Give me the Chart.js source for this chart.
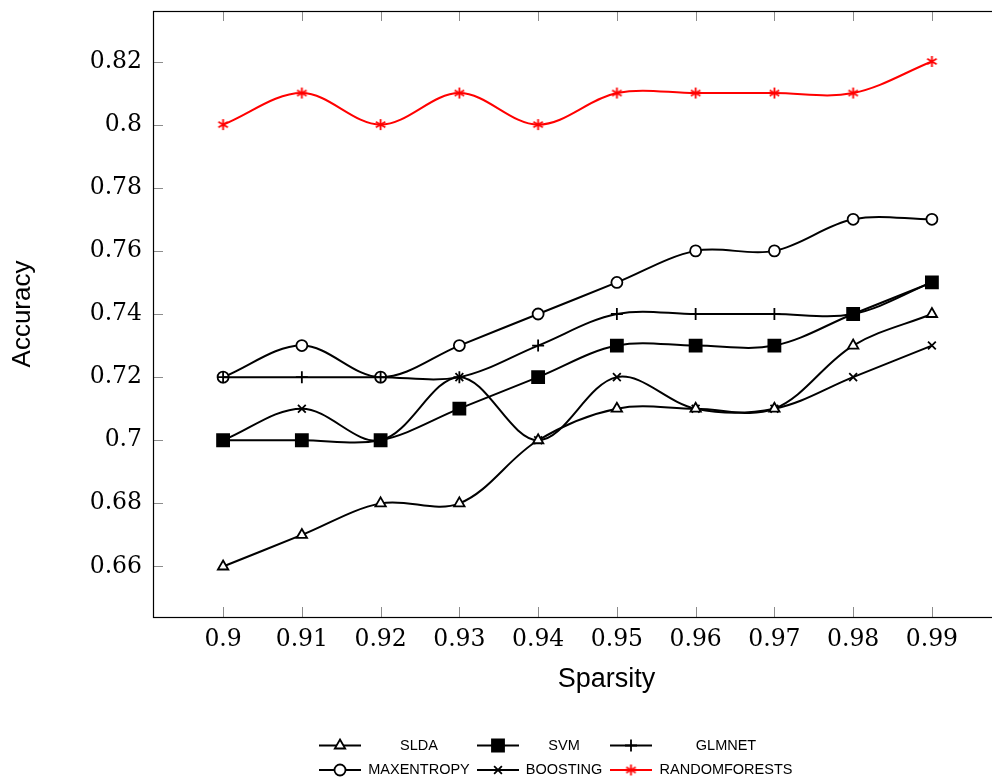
<!DOCTYPE html>
<html>
<head>
<meta charset="utf-8">
<script src="https://cdn.jsdelivr.net/npm/chart.js@4"></script>
<style>
    html, body { margin: 0; padding: 0; overflow: hidden; background: #fff; }
    canvas { display: block; }
</style>
</head>
<body>
<canvas id="myChart" width="1002" height="782"></canvas>
<script>
const sparsity = [0.9, 0.91, 0.92, 0.93, 0.94, 0.95, 0.96, 0.97, 0.98, 0.99];

const slda     = [0.66, 0.67, 0.68, 0.68, 0.70, 0.71, 0.71, 0.71, 0.73, 0.74];
const svm      = [0.70, 0.70, 0.70, 0.71, 0.72, 0.73, 0.73, 0.73, 0.74, 0.75];
const glmnet   = [0.72, 0.72, 0.72, 0.72, 0.73, 0.74, 0.74, 0.74, 0.74, 0.75];
const maxent   = [0.72, 0.73, 0.72, 0.73, 0.74, 0.75, 0.76, 0.76, 0.77, 0.77];
const boosting = [0.70, 0.71, 0.70, 0.72, 0.70, 0.72, 0.71, 0.71, 0.72, 0.73];
const rforests = [0.80, 0.81, 0.80, 0.81, 0.80, 0.81, 0.81, 0.81, 0.81, 0.82];

const xTicks = [0.9, 0.91, 0.92, 0.93, 0.94, 0.95, 0.96, 0.97, 0.98, 0.99];
const yTicks = [0.66, 0.68, 0.7, 0.72, 0.74, 0.76, 0.78, 0.8, 0.82];

const toPoints = (ys) => ys.map((y, i) => ({x: sparsity[i], y: y}));

// pgfplots style asterisk (three strokes), drawn once on a small canvas
function asterisk(color, r) {
    const size = Math.ceil(r * 2 + 4);
    const c = document.createElement('canvas');
    c.width = size; c.height = size;
    const g = c.getContext('2d');
    const m = size / 2;
    g.strokeStyle = color;
    g.lineWidth = 1.8;
    g.beginPath();
    [90, 30, 150].forEach(deg => {
        const a = deg * Math.PI / 180;
        g.moveTo(m - Math.cos(a) * r, m - Math.sin(a) * r);
        g.lineTo(m + Math.cos(a) * r, m + Math.sin(a) * r);
    });
    g.stroke();
    return c;
}
const redStar = asterisk('#ff0000', 5.5);

function series(label, values, style, radius, color, fill) {
    return {
        label: label,
        data: toPoints(values),
        borderColor: color,
        backgroundColor: fill,
        borderWidth: 2,
        tension: 0.35,
        fill: false,
        pointStyle: style,
        pointRadius: radius,
        pointBorderColor: color,
        pointBackgroundColor: fill,
        pointBorderWidth: 1.8,
    };
}

const datasets = [
    series('SLDA', slda, 'triangle', 6, '#000', '#fff'),
    series('SVM', svm, 'rect', 8.5, '#000', '#000'),
    series('GLMNET', glmnet, 'cross', 6, '#000', '#000'),
    series('MAXENTROPY', maxent, 'circle', 5.5, '#000', '#fff'),
    series('BOOSTING', boosting, 'crossRot', 5.5, '#000', '#000'),
    series('RANDOMFORESTS', rforests, redStar, 6, '#ff0000', '#ff0000'),
];

const fmt = (v) => String(Number(v.toFixed(2)));
const sansFont = '"Liberation Sans", Arial, sans-serif';
const serifFont = '"DejaVu Serif", serif';

// frame + inward gray ticks, like pgfplots
const framePlugin = {
    id: 'frame',
    beforeDatasetsDraw(chart) {
        const {ctx, chartArea: a, scales} = chart;
        ctx.save();
        ctx.strokeStyle = '#8c8c8c';
        ctx.lineWidth = 1;
        ctx.beginPath();
        xTicks.forEach(v => {
            const px = Math.round(scales.x.getPixelForValue(v)) + 0.5;
            ctx.moveTo(px, a.bottom); ctx.lineTo(px, a.bottom - 10);
            ctx.moveTo(px, a.top); ctx.lineTo(px, a.top + 10);
        });
        yTicks.forEach(v => {
            const py = Math.round(scales.y.getPixelForValue(v)) + 0.5;
            ctx.moveTo(a.left, py); ctx.lineTo(a.left + 10, py);
            ctx.moveTo(a.right, py); ctx.lineTo(a.right - 10, py);
        });
        ctx.stroke();
        ctx.strokeStyle = '#000';
        ctx.lineWidth = 1.2;
        ctx.strokeRect(Math.round(a.left) + 0.5, Math.round(a.top) + 0.5,
            Math.round(a.right - a.left), Math.round(a.bottom - a.top));
        ctx.restore();
    }
};

// legend in 3 columns, 2 rows, plus the x label (sits off-centre in the original)
const legendCols = [
    {lineX: 319, textX: 419},
    {lineX: 477, textX: 564},
    {lineX: 610, textX: 726},
];
const legendRows = [745.5, 770];

const legendPlugin = {
    id: 'pgfLegend',
    afterDraw(chart) {
        const ctx = chart.ctx;
        ctx.save();
        ctx.fillStyle = '#000';
        ctx.font = '27px ' + sansFont;
        ctx.textAlign = 'center';
        ctx.textBaseline = 'middle';
        ctx.fillText('Sparsity', 606.5, 680);

        chart.data.datasets.forEach((ds, i) => {
            const col = legendCols[i % 3];
            const y = legendRows[Math.floor(i / 3)];
            ctx.strokeStyle = ds.borderColor;
            ctx.lineWidth = 2;
            ctx.beginPath();
            ctx.moveTo(col.lineX, y);
            ctx.lineTo(col.lineX + 42, y);
            ctx.stroke();
            ctx.fillStyle = ds.pointBackgroundColor;
            ctx.strokeStyle = ds.pointBorderColor;
            ctx.lineWidth = ds.pointBorderWidth;
            Chart.helpers.drawPoint(ctx, {
                pointStyle: ds.pointStyle,
                radius: ds.pointRadius,
                rotation: 0,
                borderWidth: ds.pointBorderWidth,
            }, col.lineX + 21, y);
            ctx.fillStyle = '#000';
            ctx.font = '14.5px ' + sansFont;
            ctx.fillText(ds.label, col.textX, y);
        });
        ctx.restore();
    }
};

const config = {
    type: 'line',
    data: {datasets: datasets},
    options: {
        responsive: false,
        animation: false,
        layout: {autoPadding: false, padding: {top: 11, left: 0, right: 0, bottom: 0}},
        plugins: {
            legend: {display: false},
            tooltip: {enabled: false},
        },
        scales: {
            x: {
                type: 'linear',
                min: 0.8911,
                max: 0.9989,
                grid: {display: false, drawTicks: false},
                border: {display: false},
                afterBuildTicks: (s) => { s.ticks = xTicks.map(v => ({value: v})); },
                afterFit: (s) => { s.height = 165; s.paddingLeft = 0; s.paddingRight = 0; },
                ticks: {
                    color: '#000',
                    padding: 9,
                    font: {family: serifFont, size: 23.5},
                    callback: (v) => fmt(v),
                },
            },
            y: {
                min: 0.644,
                max: 0.836,
                grid: {display: false, drawTicks: false},
                border: {display: false},
                afterBuildTicks: (s) => { s.ticks = yTicks.map(v => ({value: v})); },
                afterFit: (s) => { s.width = 153; s.paddingTop = 0; s.paddingBottom = 0; },
                ticks: {
                    color: '#000',
                    padding: 11,
                    font: {family: serifFont, size: 23.5},
                    callback: (v) => fmt(v),
                },
                title: {
                    display: true,
                    text: 'Accuracy',
                    color: '#000',
                    font: {family: sansFont, size: 26},
                    padding: {top: 7, bottom: 0},
                },
            },
        },
    },
    plugins: [framePlugin, legendPlugin],
};

const myChart = new Chart(document.getElementById('myChart'), config);
</script>
</body>
</html>
